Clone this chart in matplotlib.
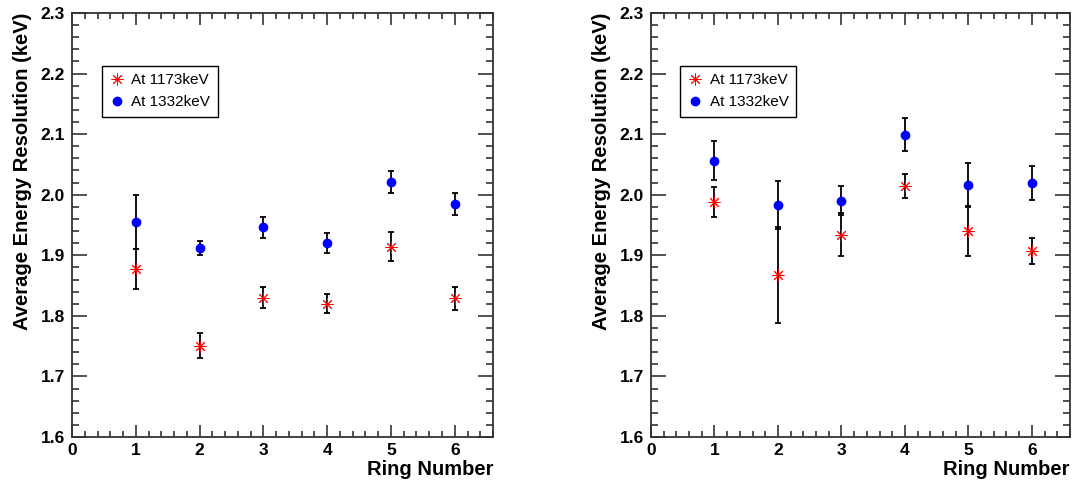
import matplotlib
matplotlib.use("Agg")
import matplotlib.pyplot as plt
from matplotlib.ticker import MultipleLocator, FormatStrFormatter
from matplotlib.lines import Line2D

plt.rcParams['font.family'] = ['Liberation Sans', 'DejaVu Sans']

ring = [1, 2, 3, 4, 5, 6]

# Left panel
left_1173 = [1.877, 1.751, 1.830, 1.820, 1.914, 1.829]
left_1173_err = [0.033, 0.020, 0.017, 0.016, 0.024, 0.019]
left_1332 = [1.955, 1.912, 1.946, 1.920, 2.021, 1.984]
left_1332_err = [0.045, 0.012, 0.018, 0.016, 0.018, 0.018]

# Right panel
right_1173 = [1.988, 1.868, 1.934, 2.014, 1.940, 1.907]
right_1173_err = [0.024, 0.079, 0.036, 0.020, 0.042, 0.021]
right_1332 = [2.056, 1.983, 1.990, 2.099, 2.016, 2.020]
right_1332_err = [0.032, 0.040, 0.024, 0.027, 0.036, 0.028]

labels = ["At 1173keV", "At 1332keV"]
xlabel = "Ring Number"
ylabel = "Average Energy Resolution (keV)"

fig = plt.figure(figsize=(10.76, 4.87), dpi=100)

ast = (8, 2, 0)
frame_col = '#333333'


def panel(rect, y1, e1, y2, e2, leg_box):
    ax = fig.add_axes(rect)
    ax.errorbar(ring, y1, yerr=e1, fmt='none', ecolor='black', elinewidth=1.3,
                capsize=2.3, capthick=1.3, zorder=2)
    ax.errorbar(ring, y2, yerr=e2, fmt='none', ecolor='black', elinewidth=1.3,
                capsize=2.3, capthick=1.3, zorder=2)
    ax.plot(ring, y1, linestyle='none', marker=ast, markersize=8.5, markeredgewidth=0.7,
            color='red', zorder=3)
    ax.plot(ring, y2, linestyle='none', marker='o', markersize=6, color='blue',
            markeredgecolor='blue', zorder=3)
    ax.set_xlim(0, 6.6)
    ax.set_ylim(1.6, 2.3)
    ax.xaxis.set_major_locator(MultipleLocator(1))
    ax.xaxis.set_minor_locator(MultipleLocator(0.2))
    ax.yaxis.set_major_locator(MultipleLocator(0.1))
    ax.yaxis.set_minor_locator(MultipleLocator(0.02))
    ax.xaxis.set_major_formatter(FormatStrFormatter('%d'))
    ax.yaxis.set_major_formatter(FormatStrFormatter('%.1f'))
    ax.tick_params(axis='both', which='both', direction='in', top=True, right=True,
                   color=frame_col, width=1.2, labelsize=12.5)
    ax.tick_params(axis='y', which='major', length=10.5, pad=5)
    ax.tick_params(axis='y', which='minor', length=5.3)
    ax.tick_params(axis='x', which='major', length=8.6, pad=4.5)
    ax.tick_params(axis='x', which='minor', length=4.3)
    for lab in ax.get_xticklabels() + ax.get_yticklabels():
        lab.set_fontweight('bold')
    for s in ax.spines.values():
        s.set_color(frame_col)
        s.set_linewidth(1.3)
    ax.set_xlabel(xlabel, fontsize=14.5, fontweight='bold', loc='right', labelpad=1)
    ax.set_ylabel(ylabel, fontsize=14.5, fontweight='bold', loc='top', labelpad=6)
    handles = [
        Line2D([], [], linestyle='none', marker=ast, markersize=8.5, markeredgewidth=0.7, color='red'),
        Line2D([], [], linestyle='none', marker='o', markersize=6, color='blue'),
    ]
    leg = ax.legend(handles, labels, loc='upper left', bbox_to_anchor=leg_box,
                    fancybox=False, shadow=False, edgecolor='black', framealpha=1,
                    fontsize=11, handlelength=1.0, handletextpad=0.45,
                    borderpad=0.5, labelspacing=0.5, borderaxespad=0)
    leg.get_frame().set_linewidth(1.0)
    return ax


panel([0.0669, 0.1027, 0.3913, 0.8706], left_1173, left_1173_err, left_1332, left_1332_err,
      (0.0705, 0.8757))
panel([0.6050, 0.1027, 0.3894, 0.8706], right_1173, right_1173_err, right_1332, right_1332_err,
      (0.069, 0.8757))

fig.savefig("out.png", dpi=100)
